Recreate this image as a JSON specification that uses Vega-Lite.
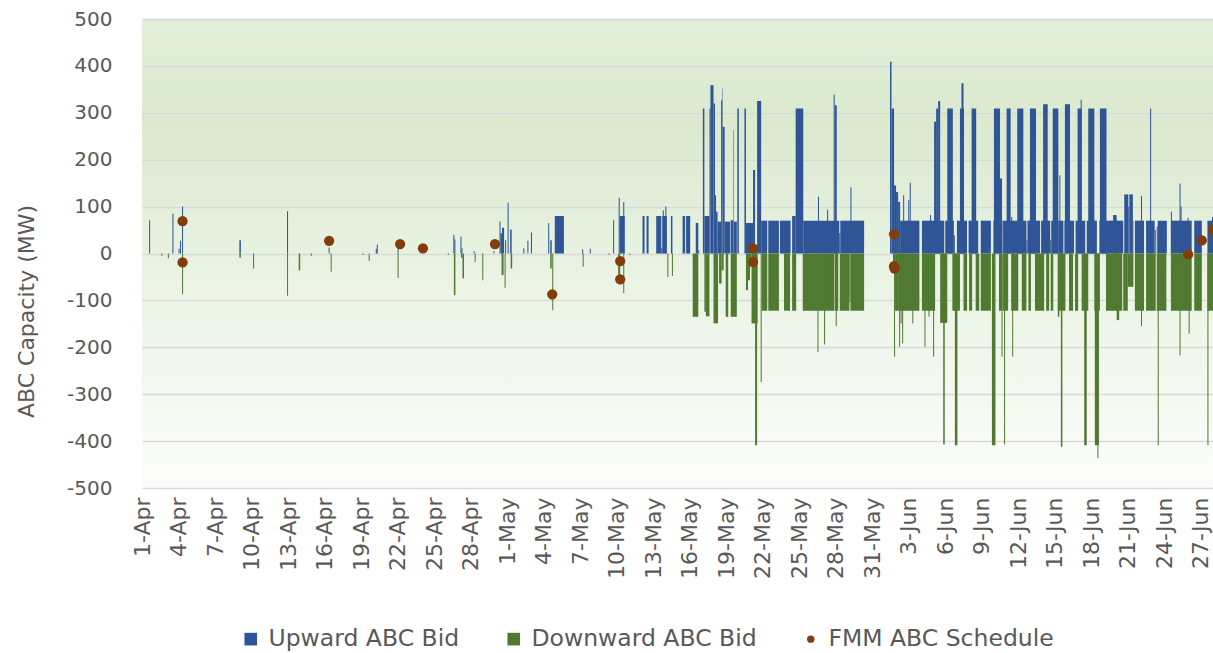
{
  "$schema": "https://vega.github.io/schema/vega-lite/v6.json",
  "width": 1071,
  "height": 469,
  "autosize": {"type": "none"},
  "padding": {"left": 142, "top": 19, "right": 0, "bottom": 165},
  "background": "white",
  "view": {
    "stroke": null,
    "fill": {"gradient": "linear", "x1": 0, "y1": 0, "x2": 0, "y2": 1,
      "stops": [
        {"offset": 0, "color": "#e3efda"},
        {"offset": 0.22, "color": "#dbe9cf"},
        {"offset": 0.55, "color": "#eaf3e4"},
        {"offset": 1, "color": "#fcfdfb"}
      ]}
  },
  "config": {"font": "DejaVu Sans"},
  "datasets": {
    "bars": [
      {"s":"2023-04-01T14:00","e":"2023-04-01T16:00","v":71,"series":"Upward ABC Bid"},
      {"s":"2023-04-03T12:00","e":"2023-04-03T14:00","v":85,"series":"Upward ABC Bid"},
      {"s":"2023-04-04T00:00","e":"2023-04-04T02:00","v":10,"series":"Upward ABC Bid"},
      {"s":"2023-04-04T03:00","e":"2023-04-04T05:00","v":27,"series":"Upward ABC Bid"},
      {"s":"2023-04-04T07:00","e":"2023-04-04T09:00","v":100,"series":"Upward ABC Bid"},
      {"s":"2023-04-09T00:00","e":"2023-04-09T03:00","v":28,"series":"Upward ABC Bid"},
      {"s":"2023-04-12T22:00","e":"2023-04-13T00:00","v":90,"series":"Upward ABC Bid"},
      {"s":"2023-04-16T08:00","e":"2023-04-16T10:00","v":13,"series":"Upward ABC Bid"},
      {"s":"2023-04-20T05:00","e":"2023-04-20T07:00","v":10,"series":"Upward ABC Bid"},
      {"s":"2023-04-20T07:00","e":"2023-04-20T09:00","v":19,"series":"Upward ABC Bid"},
      {"s":"2023-04-22T00:00","e":"2023-04-22T02:00","v":11,"series":"Upward ABC Bid"},
      {"s":"2023-04-26T14:00","e":"2023-04-26T16:00","v":40,"series":"Upward ABC Bid"},
      {"s":"2023-04-26T16:00","e":"2023-04-26T18:00","v":30,"series":"Upward ABC Bid"},
      {"s":"2023-04-27T04:00","e":"2023-04-27T06:00","v":36,"series":"Upward ABC Bid"},
      {"s":"2023-04-27T06:00","e":"2023-04-27T08:00","v":11,"series":"Upward ABC Bid"},
      {"s":"2023-04-28T06:00","e":"2023-04-28T08:00","v":5,"series":"Upward ABC Bid"},
      {"s":"2023-04-29T21:00","e":"2023-04-29T23:00","v":5,"series":"Upward ABC Bid"},
      {"s":"2023-04-30T09:00","e":"2023-04-30T11:00","v":68,"series":"Upward ABC Bid"},
      {"s":"2023-04-30T11:00","e":"2023-04-30T14:00","v":43,"series":"Upward ABC Bid"},
      {"s":"2023-04-30T14:00","e":"2023-04-30T18:00","v":55,"series":"Upward ABC Bid"},
      {"s":"2023-04-30T20:00","e":"2023-04-30T22:00","v":28,"series":"Upward ABC Bid"},
      {"s":"2023-05-01T01:00","e":"2023-05-01T03:00","v":108,"series":"Upward ABC Bid"},
      {"s":"2023-05-01T06:00","e":"2023-05-01T09:00","v":51,"series":"Upward ABC Bid"},
      {"s":"2023-05-02T08:00","e":"2023-05-02T10:00","v":11,"series":"Upward ABC Bid"},
      {"s":"2023-05-02T16:00","e":"2023-05-02T18:00","v":27,"series":"Upward ABC Bid"},
      {"s":"2023-05-02T23:00","e":"2023-05-03T01:00","v":45,"series":"Upward ABC Bid"},
      {"s":"2023-05-04T09:00","e":"2023-05-04T11:00","v":65,"series":"Upward ABC Bid"},
      {"s":"2023-05-04T13:00","e":"2023-05-04T16:00","v":28,"series":"Upward ABC Bid"},
      {"s":"2023-05-04T22:00","e":"2023-05-05T16:00","v":80,"series":"Upward ABC Bid"},
      {"s":"2023-05-07T04:00","e":"2023-05-07T06:00","v":9,"series":"Upward ABC Bid"},
      {"s":"2023-05-07T19:00","e":"2023-05-07T21:00","v":10,"series":"Upward ABC Bid"},
      {"s":"2023-05-09T17:00","e":"2023-05-09T19:00","v":71,"series":"Upward ABC Bid"},
      {"s":"2023-05-10T04:00","e":"2023-05-10T06:00","v":119,"series":"Upward ABC Bid"},
      {"s":"2023-05-10T06:00","e":"2023-05-10T16:00","v":80,"series":"Upward ABC Bid"},
      {"s":"2023-05-10T13:00","e":"2023-05-10T15:00","v":110,"series":"Upward ABC Bid"},
      {"s":"2023-05-12T03:00","e":"2023-05-12T07:00","v":80,"series":"Upward ABC Bid"},
      {"s":"2023-05-12T11:00","e":"2023-05-12T15:00","v":80,"series":"Upward ABC Bid"},
      {"s":"2023-05-13T06:00","e":"2023-05-13T16:00","v":80,"series":"Upward ABC Bid"},
      {"s":"2023-05-13T16:00","e":"2023-05-13T18:00","v":11,"series":"Upward ABC Bid"},
      {"s":"2023-05-13T18:00","e":"2023-05-14T03:00","v":80,"series":"Upward ABC Bid"},
      {"s":"2023-05-13T19:00","e":"2023-05-13T21:00","v":92,"series":"Upward ABC Bid"},
      {"s":"2023-05-14T00:00","e":"2023-05-14T02:00","v":100,"series":"Upward ABC Bid"},
      {"s":"2023-05-14T11:00","e":"2023-05-14T14:00","v":80,"series":"Upward ABC Bid"},
      {"s":"2023-05-15T10:00","e":"2023-05-15T15:00","v":80,"series":"Upward ABC Bid"},
      {"s":"2023-05-15T17:00","e":"2023-05-16T01:00","v":80,"series":"Upward ABC Bid"},
      {"s":"2023-05-16T12:00","e":"2023-05-16T17:00","v":65,"series":"Upward ABC Bid"},
      {"s":"2023-05-16T17:00","e":"2023-05-16T19:00","v":7,"series":"Upward ABC Bid"},
      {"s":"2023-05-17T02:00","e":"2023-05-17T05:00","v":309,"series":"Upward ABC Bid"},
      {"s":"2023-05-17T05:00","e":"2023-05-17T15:00","v":80,"series":"Upward ABC Bid"},
      {"s":"2023-05-17T15:00","e":"2023-05-17T17:00","v":309,"series":"Upward ABC Bid"},
      {"s":"2023-05-17T17:00","e":"2023-05-17T23:00","v":359,"series":"Upward ABC Bid"},
      {"s":"2023-05-17T23:00","e":"2023-05-18T02:00","v":320,"series":"Upward ABC Bid"},
      {"s":"2023-05-18T02:00","e":"2023-05-18T04:00","v":124,"series":"Upward ABC Bid"},
      {"s":"2023-05-18T04:00","e":"2023-05-18T07:00","v":89,"series":"Upward ABC Bid"},
      {"s":"2023-05-18T07:00","e":"2023-05-18T14:00","v":68,"series":"Upward ABC Bid"},
      {"s":"2023-05-18T14:00","e":"2023-05-18T16:00","v":327,"series":"Upward ABC Bid"},
      {"s":"2023-05-18T16:00","e":"2023-05-18T17:00","v":352,"series":"Upward ABC Bid"},
      {"s":"2023-05-18T17:00","e":"2023-05-18T21:00","v":270,"series":"Upward ABC Bid"},
      {"s":"2023-05-18T21:00","e":"2023-05-19T08:00","v":68,"series":"Upward ABC Bid"},
      {"s":"2023-05-19T09:00","e":"2023-05-19T14:00","v":71,"series":"Upward ABC Bid"},
      {"s":"2023-05-19T14:00","e":"2023-05-19T15:00","v":264,"series":"Upward ABC Bid"},
      {"s":"2023-05-19T15:00","e":"2023-05-19T21:00","v":68,"series":"Upward ABC Bid"},
      {"s":"2023-05-19T22:00","e":"2023-05-20T01:00","v":309,"series":"Upward ABC Bid"},
      {"s":"2023-05-20T12:00","e":"2023-05-20T15:00","v":309,"series":"Upward ABC Bid"},
      {"s":"2023-05-20T15:00","e":"2023-05-21T05:00","v":65,"series":"Upward ABC Bid"},
      {"s":"2023-05-21T05:00","e":"2023-05-21T09:00","v":178,"series":"Upward ABC Bid"},
      {"s":"2023-05-21T09:00","e":"2023-05-21T13:00","v":7,"series":"Upward ABC Bid"},
      {"s":"2023-05-21T13:00","e":"2023-05-21T21:00","v":325,"series":"Upward ABC Bid"},
      {"s":"2023-05-21T21:00","e":"2023-05-22T09:00","v":70,"series":"Upward ABC Bid"},
      {"s":"2023-05-22T11:00","e":"2023-05-23T08:00","v":70,"series":"Upward ABC Bid"},
      {"s":"2023-05-23T10:00","e":"2023-05-24T07:00","v":70,"series":"Upward ABC Bid"},
      {"s":"2023-05-24T10:00","e":"2023-05-24T17:00","v":80,"series":"Upward ABC Bid"},
      {"s":"2023-05-24T17:00","e":"2023-05-25T08:00","v":309,"series":"Upward ABC Bid"},
      {"s":"2023-05-25T08:00","e":"2023-05-28T07:00","v":70,"series":"Upward ABC Bid"},
      {"s":"2023-05-28T07:00","e":"2023-05-28T09:00","v":43,"series":"Upward ABC Bid"},
      {"s":"2023-05-28T09:00","e":"2023-05-30T08:00","v":70,"series":"Upward ABC Bid"},
      {"s":"2023-05-26T13:00","e":"2023-05-26T15:00","v":121,"series":"Upward ABC Bid"},
      {"s":"2023-05-27T07:00","e":"2023-05-27T09:00","v":94,"series":"Upward ABC Bid"},
      {"s":"2023-05-27T20:00","e":"2023-05-27T22:00","v":339,"series":"Upward ABC Bid"},
      {"s":"2023-05-27T22:00","e":"2023-05-28T02:00","v":316,"series":"Upward ABC Bid"},
      {"s":"2023-05-29T05:00","e":"2023-05-29T07:00","v":141,"series":"Upward ABC Bid"},
      {"s":"2023-06-01T11:00","e":"2023-06-01T14:00","v":409,"series":"Upward ABC Bid"},
      {"s":"2023-06-01T14:00","e":"2023-06-01T19:00","v":309,"series":"Upward ABC Bid"},
      {"s":"2023-06-01T19:00","e":"2023-06-01T23:00","v":145,"series":"Upward ABC Bid"},
      {"s":"2023-06-01T23:00","e":"2023-06-02T03:00","v":131,"series":"Upward ABC Bid"},
      {"s":"2023-06-02T03:00","e":"2023-06-02T07:00","v":110,"series":"Upward ABC Bid"},
      {"s":"2023-06-02T07:00","e":"2023-06-03T21:00","v":70,"series":"Upward ABC Bid"},
      {"s":"2023-06-02T13:00","e":"2023-06-02T15:00","v":124,"series":"Upward ABC Bid"},
      {"s":"2023-06-02T23:00","e":"2023-06-03T01:00","v":114,"series":"Upward ABC Bid"},
      {"s":"2023-06-03T02:00","e":"2023-06-03T04:00","v":151,"series":"Upward ABC Bid"},
      {"s":"2023-06-04T02:00","e":"2023-06-05T22:00","v":70,"series":"Upward ABC Bid"},
      {"s":"2023-06-04T18:00","e":"2023-06-04T20:00","v":82,"series":"Upward ABC Bid"},
      {"s":"2023-06-05T02:00","e":"2023-06-05T06:00","v":281,"series":"Upward ABC Bid"},
      {"s":"2023-06-05T06:00","e":"2023-06-05T10:00","v":309,"series":"Upward ABC Bid"},
      {"s":"2023-06-05T10:00","e":"2023-06-05T14:00","v":325,"series":"Upward ABC Bid"},
      {"s":"2023-06-06T00:00","e":"2023-06-06T17:00","v":70,"series":"Upward ABC Bid"},
      {"s":"2023-06-06T04:00","e":"2023-06-06T15:00","v":309,"series":"Upward ABC Bid"},
      {"s":"2023-06-06T17:00","e":"2023-06-06T19:00","v":39,"series":"Upward ABC Bid"},
      {"s":"2023-06-06T23:00","e":"2023-06-07T19:00","v":70,"series":"Upward ABC Bid"},
      {"s":"2023-06-07T05:00","e":"2023-06-07T13:00","v":309,"series":"Upward ABC Bid"},
      {"s":"2023-06-07T08:00","e":"2023-06-07T12:00","v":363,"series":"Upward ABC Bid"},
      {"s":"2023-06-07T22:00","e":"2023-06-08T17:00","v":70,"series":"Upward ABC Bid"},
      {"s":"2023-06-08T04:00","e":"2023-06-08T13:00","v":309,"series":"Upward ABC Bid"},
      {"s":"2023-06-08T22:00","e":"2023-06-09T18:00","v":70,"series":"Upward ABC Bid"},
      {"s":"2023-06-09T23:00","e":"2023-06-10T17:00","v":70,"series":"Upward ABC Bid"},
      {"s":"2023-06-10T00:00","e":"2023-06-10T12:00","v":309,"series":"Upward ABC Bid"},
      {"s":"2023-06-10T12:00","e":"2023-06-10T16:00","v":160,"series":"Upward ABC Bid"},
      {"s":"2023-06-10T18:00","e":"2023-06-12T16:00","v":70,"series":"Upward ABC Bid"},
      {"s":"2023-06-12T16:00","e":"2023-06-12T18:00","v":28,"series":"Upward ABC Bid"},
      {"s":"2023-06-12T18:00","e":"2023-06-13T19:00","v":70,"series":"Upward ABC Bid"},
      {"s":"2023-06-11T01:00","e":"2023-06-11T09:00","v":309,"series":"Upward ABC Bid"},
      {"s":"2023-06-11T10:00","e":"2023-06-11T12:00","v":78,"series":"Upward ABC Bid"},
      {"s":"2023-06-11T22:00","e":"2023-06-12T10:00","v":309,"series":"Upward ABC Bid"},
      {"s":"2023-06-12T23:00","e":"2023-06-13T11:00","v":309,"series":"Upward ABC Bid"},
      {"s":"2023-06-13T21:00","e":"2023-06-14T15:00","v":70,"series":"Upward ABC Bid"},
      {"s":"2023-06-14T01:00","e":"2023-06-14T10:00","v":318,"series":"Upward ABC Bid"},
      {"s":"2023-06-14T15:00","e":"2023-06-14T17:00","v":28,"series":"Upward ABC Bid"},
      {"s":"2023-06-14T17:00","e":"2023-06-15T07:00","v":70,"series":"Upward ABC Bid"},
      {"s":"2023-06-14T20:00","e":"2023-06-15T07:00","v":309,"series":"Upward ABC Bid"},
      {"s":"2023-06-15T07:00","e":"2023-06-15T17:00","v":70,"series":"Upward ABC Bid"},
      {"s":"2023-06-15T09:00","e":"2023-06-15T11:00","v":167,"series":"Upward ABC Bid"},
      {"s":"2023-06-15T19:00","e":"2023-06-16T14:00","v":70,"series":"Upward ABC Bid"},
      {"s":"2023-06-15T20:00","e":"2023-06-16T06:00","v":318,"series":"Upward ABC Bid"},
      {"s":"2023-06-16T17:00","e":"2023-06-17T12:00","v":70,"series":"Upward ABC Bid"},
      {"s":"2023-06-16T21:00","e":"2023-06-17T05:00","v":309,"series":"Upward ABC Bid"},
      {"s":"2023-06-17T03:00","e":"2023-06-17T05:00","v":328,"series":"Upward ABC Bid"},
      {"s":"2023-06-17T15:00","e":"2023-06-18T11:00","v":70,"series":"Upward ABC Bid"},
      {"s":"2023-06-17T18:00","e":"2023-06-18T06:00","v":309,"series":"Upward ABC Bid"},
      {"s":"2023-06-18T16:00","e":"2023-06-20T15:00","v":70,"series":"Upward ABC Bid"},
      {"s":"2023-06-18T17:00","e":"2023-06-19T06:00","v":309,"series":"Upward ABC Bid"},
      {"s":"2023-06-19T19:00","e":"2023-06-20T02:00","v":82,"series":"Upward ABC Bid"},
      {"s":"2023-06-20T17:00","e":"2023-06-21T01:00","v":126,"series":"Upward ABC Bid"},
      {"s":"2023-06-21T01:00","e":"2023-06-21T03:00","v":100,"series":"Upward ABC Bid"},
      {"s":"2023-06-21T03:00","e":"2023-06-21T10:00","v":126,"series":"Upward ABC Bid"},
      {"s":"2023-06-21T10:00","e":"2023-06-21T11:00","v":70,"series":"Upward ABC Bid"},
      {"s":"2023-06-21T14:00","e":"2023-06-22T08:00","v":70,"series":"Upward ABC Bid"},
      {"s":"2023-06-22T02:00","e":"2023-06-22T04:00","v":123,"series":"Upward ABC Bid"},
      {"s":"2023-06-22T12:00","e":"2023-06-23T05:00","v":70,"series":"Upward ABC Bid"},
      {"s":"2023-06-22T20:00","e":"2023-06-22T22:00","v":309,"series":"Upward ABC Bid"},
      {"s":"2023-06-23T05:00","e":"2023-06-23T07:00","v":50,"series":"Upward ABC Bid"},
      {"s":"2023-06-23T09:00","e":"2023-06-23T11:00","v":57,"series":"Upward ABC Bid"},
      {"s":"2023-06-23T11:00","e":"2023-06-24T05:00","v":70,"series":"Upward ABC Bid"},
      {"s":"2023-06-24T13:00","e":"2023-06-26T06:00","v":70,"series":"Upward ABC Bid"},
      {"s":"2023-06-24T13:00","e":"2023-06-24T15:00","v":89,"series":"Upward ABC Bid"},
      {"s":"2023-06-25T06:00","e":"2023-06-25T08:00","v":149,"series":"Upward ABC Bid"},
      {"s":"2023-06-25T08:00","e":"2023-06-25T10:00","v":100,"series":"Upward ABC Bid"},
      {"s":"2023-06-25T22:00","e":"2023-06-26T00:00","v":76,"series":"Upward ABC Bid"},
      {"s":"2023-06-26T11:00","e":"2023-06-27T02:00","v":70,"series":"Upward ABC Bid"},
      {"s":"2023-06-27T13:00","e":"2023-06-28T00:00","v":70,"series":"Upward ABC Bid"},
      {"s":"2023-06-27T22:00","e":"2023-06-28T00:00","v":78,"series":"Upward ABC Bid"},

      {"s":"2023-04-02T14:00","e":"2023-04-02T16:00","v":-5,"series":"Downward ABC Bid"},
      {"s":"2023-04-03T03:00","e":"2023-04-03T05:00","v":-10,"series":"Downward ABC Bid"},
      {"s":"2023-04-04T07:00","e":"2023-04-04T09:00","v":-87,"series":"Downward ABC Bid"},
      {"s":"2023-04-09T00:00","e":"2023-04-09T03:00","v":-9,"series":"Downward ABC Bid"},
      {"s":"2023-04-10T03:00","e":"2023-04-10T05:00","v":-32,"series":"Downward ABC Bid"},
      {"s":"2023-04-12T22:00","e":"2023-04-13T00:00","v":-90,"series":"Downward ABC Bid"},
      {"s":"2023-04-13T21:00","e":"2023-04-14T00:00","v":-36,"series":"Downward ABC Bid"},
      {"s":"2023-04-14T21:00","e":"2023-04-14T23:00","v":-5,"series":"Downward ABC Bid"},
      {"s":"2023-04-16T12:00","e":"2023-04-16T14:00","v":-39,"series":"Downward ABC Bid"},
      {"s":"2023-04-19T03:00","e":"2023-04-19T05:00","v":-3,"series":"Downward ABC Bid"},
      {"s":"2023-04-19T15:00","e":"2023-04-19T17:00","v":-16,"series":"Downward ABC Bid"},
      {"s":"2023-04-22T00:00","e":"2023-04-22T02:00","v":-52,"series":"Downward ABC Bid"},
      {"s":"2023-04-26T03:00","e":"2023-04-26T05:00","v":-3,"series":"Downward ABC Bid"},
      {"s":"2023-04-26T15:00","e":"2023-04-26T18:00","v":-89,"series":"Downward ABC Bid"},
      {"s":"2023-04-27T05:00","e":"2023-04-27T08:00","v":-9,"series":"Downward ABC Bid"},
      {"s":"2023-04-27T08:00","e":"2023-04-27T11:00","v":-53,"series":"Downward ABC Bid"},
      {"s":"2023-04-28T08:00","e":"2023-04-28T10:00","v":-18,"series":"Downward ABC Bid"},
      {"s":"2023-04-28T23:00","e":"2023-04-29T01:00","v":-57,"series":"Downward ABC Bid"},
      {"s":"2023-04-30T13:00","e":"2023-04-30T17:00","v":-46,"series":"Downward ABC Bid"},
      {"s":"2023-04-30T19:00","e":"2023-04-30T21:00","v":-73,"series":"Downward ABC Bid"},
      {"s":"2023-05-01T07:00","e":"2023-05-01T10:00","v":-32,"series":"Downward ABC Bid"},
      {"s":"2023-05-04T13:00","e":"2023-05-04T16:00","v":-32,"series":"Downward ABC Bid"},
      {"s":"2023-05-04T17:00","e":"2023-05-04T19:00","v":-121,"series":"Downward ABC Bid"},
      {"s":"2023-05-07T05:00","e":"2023-05-07T07:00","v":-28,"series":"Downward ABC Bid"},
      {"s":"2023-05-09T08:00","e":"2023-05-09T10:00","v":-3,"series":"Downward ABC Bid"},
      {"s":"2023-05-10T03:00","e":"2023-05-10T07:00","v":-55,"series":"Downward ABC Bid"},
      {"s":"2023-05-10T13:00","e":"2023-05-10T15:00","v":-85,"series":"Downward ABC Bid"},
      {"s":"2023-05-11T01:00","e":"2023-05-11T03:00","v":-3,"series":"Downward ABC Bid"},
      {"s":"2023-05-14T04:00","e":"2023-05-14T06:00","v":-50,"series":"Downward ABC Bid"},
      {"s":"2023-05-14T13:00","e":"2023-05-14T15:00","v":-48,"series":"Downward ABC Bid"},
      {"s":"2023-05-16T06:00","e":"2023-05-16T17:00","v":-135,"series":"Downward ABC Bid"},
      {"s":"2023-05-17T05:00","e":"2023-05-17T08:00","v":-124,"series":"Downward ABC Bid"},
      {"s":"2023-05-17T08:00","e":"2023-05-17T15:00","v":-134,"series":"Downward ABC Bid"},
      {"s":"2023-05-17T23:00","e":"2023-05-18T08:00","v":-149,"series":"Downward ABC Bid"},
      {"s":"2023-05-18T10:00","e":"2023-05-18T15:00","v":-64,"series":"Downward ABC Bid"},
      {"s":"2023-05-18T15:00","e":"2023-05-18T19:00","v":-36,"series":"Downward ABC Bid"},
      {"s":"2023-05-18T23:00","e":"2023-05-19T04:00","v":-135,"series":"Downward ABC Bid"},
      {"s":"2023-05-19T09:00","e":"2023-05-19T21:00","v":-135,"series":"Downward ABC Bid"},
      {"s":"2023-05-20T15:00","e":"2023-05-20T19:00","v":-78,"series":"Downward ABC Bid"},
      {"s":"2023-05-20T19:00","e":"2023-05-20T23:00","v":-57,"series":"Downward ABC Bid"},
      {"s":"2023-05-20T23:00","e":"2023-05-21T02:00","v":-28,"series":"Downward ABC Bid"},
      {"s":"2023-05-21T02:00","e":"2023-05-21T14:00","v":-149,"series":"Downward ABC Bid"},
      {"s":"2023-05-21T09:00","e":"2023-05-21T13:00","v":-409,"series":"Downward ABC Bid"},
      {"s":"2023-05-21T20:00","e":"2023-05-21T22:00","v":-274,"series":"Downward ABC Bid"},
      {"s":"2023-05-21T22:00","e":"2023-05-22T09:00","v":-122,"series":"Downward ABC Bid"},
      {"s":"2023-05-22T11:00","e":"2023-05-23T08:00","v":-122,"series":"Downward ABC Bid"},
      {"s":"2023-05-23T18:00","e":"2023-05-24T06:00","v":-122,"series":"Downward ABC Bid"},
      {"s":"2023-05-24T10:00","e":"2023-05-24T18:00","v":-122,"series":"Downward ABC Bid"},
      {"s":"2023-05-25T07:00","e":"2023-05-27T21:00","v":-122,"series":"Downward ABC Bid"},
      {"s":"2023-05-26T12:00","e":"2023-05-26T14:00","v":-210,"series":"Downward ABC Bid"},
      {"s":"2023-05-27T01:00","e":"2023-05-27T03:00","v":-194,"series":"Downward ABC Bid"},
      {"s":"2023-05-27T22:00","e":"2023-05-28T05:00","v":-122,"series":"Downward ABC Bid"},
      {"s":"2023-05-28T00:00","e":"2023-05-28T02:00","v":-155,"series":"Downward ABC Bid"},
      {"s":"2023-05-28T08:00","e":"2023-05-29T03:00","v":-122,"series":"Downward ABC Bid"},
      {"s":"2023-05-29T03:00","e":"2023-05-29T05:00","v":-103,"series":"Downward ABC Bid"},
      {"s":"2023-05-29T05:00","e":"2023-05-30T08:00","v":-122,"series":"Downward ABC Bid"},
      {"s":"2023-06-01T17:00","e":"2023-06-01T19:00","v":-30,"series":"Downward ABC Bid"},
      {"s":"2023-06-01T19:00","e":"2023-06-01T21:00","v":-220,"series":"Downward ABC Bid"},
      {"s":"2023-06-01T21:00","e":"2023-06-02T03:00","v":-122,"series":"Downward ABC Bid"},
      {"s":"2023-06-02T03:00","e":"2023-06-03T21:00","v":-122,"series":"Downward ABC Bid"},
      {"s":"2023-06-02T05:00","e":"2023-06-02T07:00","v":-199,"series":"Downward ABC Bid"},
      {"s":"2023-06-02T08:00","e":"2023-06-02T10:00","v":-149,"series":"Downward ABC Bid"},
      {"s":"2023-06-02T11:00","e":"2023-06-02T13:00","v":-192,"series":"Downward ABC Bid"},
      {"s":"2023-06-03T07:00","e":"2023-06-03T09:00","v":-149,"series":"Downward ABC Bid"},
      {"s":"2023-06-04T02:00","e":"2023-06-05T04:00","v":-122,"series":"Downward ABC Bid"},
      {"s":"2023-06-04T07:00","e":"2023-06-04T09:00","v":-199,"series":"Downward ABC Bid"},
      {"s":"2023-06-04T15:00","e":"2023-06-04T17:00","v":-135,"series":"Downward ABC Bid"},
      {"s":"2023-06-05T00:00","e":"2023-06-05T02:00","v":-220,"series":"Downward ABC Bid"},
      {"s":"2023-06-05T14:00","e":"2023-06-06T04:00","v":-148,"series":"Downward ABC Bid"},
      {"s":"2023-06-05T20:00","e":"2023-06-05T23:00","v":-407,"series":"Downward ABC Bid"},
      {"s":"2023-06-06T14:00","e":"2023-06-07T05:00","v":-122,"series":"Downward ABC Bid"},
      {"s":"2023-06-06T19:00","e":"2023-06-07T00:00","v":-409,"series":"Downward ABC Bid"},
      {"s":"2023-06-07T12:00","e":"2023-06-07T19:00","v":-122,"series":"Downward ABC Bid"},
      {"s":"2023-06-07T23:00","e":"2023-06-08T05:00","v":-122,"series":"Downward ABC Bid"},
      {"s":"2023-06-08T12:00","e":"2023-06-08T19:00","v":-122,"series":"Downward ABC Bid"},
      {"s":"2023-06-08T22:00","e":"2023-06-09T18:00","v":-122,"series":"Downward ABC Bid"},
      {"s":"2023-06-09T20:00","e":"2023-06-10T03:00","v":-409,"series":"Downward ABC Bid"},
      {"s":"2023-06-10T10:00","e":"2023-06-10T17:00","v":-122,"series":"Downward ABC Bid"},
      {"s":"2023-06-10T15:00","e":"2023-06-10T17:00","v":-220,"series":"Downward ABC Bid"},
      {"s":"2023-06-10T18:00","e":"2023-06-11T04:00","v":-122,"series":"Downward ABC Bid"},
      {"s":"2023-06-10T20:00","e":"2023-06-10T22:00","v":-407,"series":"Downward ABC Bid"},
      {"s":"2023-06-11T10:00","e":"2023-06-12T00:00","v":-122,"series":"Downward ABC Bid"},
      {"s":"2023-06-11T12:00","e":"2023-06-11T14:00","v":-220,"series":"Downward ABC Bid"},
      {"s":"2023-06-12T07:00","e":"2023-06-12T16:00","v":-122,"series":"Downward ABC Bid"},
      {"s":"2023-06-12T20:00","e":"2023-06-13T01:00","v":-122,"series":"Downward ABC Bid"},
      {"s":"2023-06-13T09:00","e":"2023-06-14T03:00","v":-122,"series":"Downward ABC Bid"},
      {"s":"2023-06-14T07:00","e":"2023-06-14T13:00","v":-122,"series":"Downward ABC Bid"},
      {"s":"2023-06-14T16:00","e":"2023-06-14T21:00","v":-122,"series":"Downward ABC Bid"},
      {"s":"2023-06-15T06:00","e":"2023-06-15T21:00","v":-122,"series":"Downward ABC Bid"},
      {"s":"2023-06-15T06:00","e":"2023-06-15T09:00","v":-135,"series":"Downward ABC Bid"},
      {"s":"2023-06-15T12:00","e":"2023-06-15T15:00","v":-412,"series":"Downward ABC Bid"},
      {"s":"2023-06-16T04:00","e":"2023-06-16T12:00","v":-122,"series":"Downward ABC Bid"},
      {"s":"2023-06-16T16:00","e":"2023-06-16T22:00","v":-122,"series":"Downward ABC Bid"},
      {"s":"2023-06-17T05:00","e":"2023-06-17T18:00","v":-122,"series":"Downward ABC Bid"},
      {"s":"2023-06-17T10:00","e":"2023-06-17T15:00","v":-409,"series":"Downward ABC Bid"},
      {"s":"2023-06-18T06:00","e":"2023-06-18T17:00","v":-122,"series":"Downward ABC Bid"},
      {"s":"2023-06-18T07:00","e":"2023-06-18T15:00","v":-409,"series":"Downward ABC Bid"},
      {"s":"2023-06-18T12:00","e":"2023-06-18T14:00","v":-436,"series":"Downward ABC Bid"},
      {"s":"2023-06-19T05:00","e":"2023-06-20T13:00","v":-122,"series":"Downward ABC Bid"},
      {"s":"2023-06-20T02:00","e":"2023-06-20T07:00","v":-142,"series":"Downward ABC Bid"},
      {"s":"2023-06-20T15:00","e":"2023-06-21T00:00","v":-122,"series":"Downward ABC Bid"},
      {"s":"2023-06-21T00:00","e":"2023-06-21T11:00","v":-71,"series":"Downward ABC Bid"},
      {"s":"2023-06-21T14:00","e":"2023-06-22T08:00","v":-122,"series":"Downward ABC Bid"},
      {"s":"2023-06-22T02:00","e":"2023-06-22T04:00","v":-155,"series":"Downward ABC Bid"},
      {"s":"2023-06-22T12:00","e":"2023-06-23T07:00","v":-122,"series":"Downward ABC Bid"},
      {"s":"2023-06-23T09:00","e":"2023-06-24T04:00","v":-122,"series":"Downward ABC Bid"},
      {"s":"2023-06-23T11:00","e":"2023-06-23T13:00","v":-409,"series":"Downward ABC Bid"},
      {"s":"2023-06-24T13:00","e":"2023-06-26T06:00","v":-122,"series":"Downward ABC Bid"},
      {"s":"2023-06-25T06:00","e":"2023-06-25T08:00","v":-217,"series":"Downward ABC Bid"},
      {"s":"2023-06-26T00:00","e":"2023-06-26T02:00","v":-171,"series":"Downward ABC Bid"},
      {"s":"2023-06-26T11:00","e":"2023-06-27T02:00","v":-122,"series":"Downward ABC Bid"},
      {"s":"2023-06-27T13:00","e":"2023-06-28T00:00","v":-122,"series":"Downward ABC Bid"},
      {"s":"2023-06-27T13:00","e":"2023-06-27T15:00","v":-409,"series":"Downward ABC Bid"}
    ],
    "sched": [
      {"s":"2023-04-04T08:00","v":69,"series":"FMM ABC Schedule"},
      {"s":"2023-04-04T08:00","v":-19,"series":"FMM ABC Schedule"},
      {"s":"2023-04-16T09:00","v":27,"series":"FMM ABC Schedule"},
      {"s":"2023-04-22T05:00","v":20,"series":"FMM ABC Schedule"},
      {"s":"2023-04-24T02:00","v":11,"series":"FMM ABC Schedule"},
      {"s":"2023-04-30T00:00","v":20,"series":"FMM ABC Schedule"},
      {"s":"2023-05-04T17:00","v":-87,"series":"FMM ABC Schedule"},
      {"s":"2023-05-10T07:00","v":-16,"series":"FMM ABC Schedule"},
      {"s":"2023-05-10T07:00","v":-55,"series":"FMM ABC Schedule"},
      {"s":"2023-05-21T05:00","v":11,"series":"FMM ABC Schedule"},
      {"s":"2023-05-21T05:00","v":-18,"series":"FMM ABC Schedule"},
      {"s":"2023-06-01T19:00","v":41,"series":"FMM ABC Schedule"},
      {"s":"2023-06-01T19:00","v":-27,"series":"FMM ABC Schedule"},
      {"s":"2023-06-01T20:00","v":-32,"series":"FMM ABC Schedule"},
      {"s":"2023-06-25T23:00","v":-2,"series":"FMM ABC Schedule"},
      {"s":"2023-06-27T02:00","v":28,"series":"FMM ABC Schedule"},
      {"s":"2023-06-28T00:00","v":51,"series":"FMM ABC Schedule"}
    ]
  },
  "encoding": {
    "x": {
      "field": "s", "type": "temporal",
      "scale": {"domain": [{"year":2023,"month":4,"date":1},{"year":2023,"month":6,"date":28}], "nice": false},
      "axis": {
        "title": null, "grid": false, "domain": false, "ticks": false, "tickSize": 0,
        "format": "%-d-%b", "labelAngle": -90, "labelFontSize": 22, "labelColor": "#595959",
        "labelPadding": 9, "labelOverlap": false, "labelSeparation": 0, "labelFlush": false,
        "values": [
          {"year":2023,"month":4,"date":1},{"year":2023,"month":4,"date":4},{"year":2023,"month":4,"date":7},
          {"year":2023,"month":4,"date":10},{"year":2023,"month":4,"date":13},{"year":2023,"month":4,"date":16},
          {"year":2023,"month":4,"date":19},{"year":2023,"month":4,"date":22},{"year":2023,"month":4,"date":25},
          {"year":2023,"month":4,"date":28},{"year":2023,"month":5,"date":1},{"year":2023,"month":5,"date":4},
          {"year":2023,"month":5,"date":7},{"year":2023,"month":5,"date":10},{"year":2023,"month":5,"date":13},
          {"year":2023,"month":5,"date":16},{"year":2023,"month":5,"date":19},{"year":2023,"month":5,"date":22},
          {"year":2023,"month":5,"date":25},{"year":2023,"month":5,"date":28},{"year":2023,"month":5,"date":31},
          {"year":2023,"month":6,"date":3},{"year":2023,"month":6,"date":6},{"year":2023,"month":6,"date":9},
          {"year":2023,"month":6,"date":12},{"year":2023,"month":6,"date":15},{"year":2023,"month":6,"date":18},
          {"year":2023,"month":6,"date":21},{"year":2023,"month":6,"date":24},{"year":2023,"month":6,"date":27}
        ]
      }
    },
    "y": {
      "field": "v", "type": "quantitative",
      "scale": {"domain": [-500, 500], "nice": false},
      "axis": {
        "title": "ABC Capacity (MW)", "titleFontSize": 22, "titleFontWeight": "normal", "titleColor": "#595959",
        "titleAngle": -90, "titleX": -109, "titleY": 292, "titleBaseline": "alphabetic", "titleAlign": "center",
        "values": [-500,-400,-300,-200,-100,0,100,200,300,400,500],
        "labelExpr": "datum.value + ''",
        "labelFontSize": 20, "labelColor": "#595959", "labelPadding": 30,
        "ticks": false, "tickSize": 0, "domain": false,
        "grid": true, "gridColor": "#d9d9d9", "gridWidth": 1.5
      }
    },
    "color": {
      "field": "series", "type": "nominal",
      "scale": {"domain": ["Upward ABC Bid", "Downward ABC Bid", "FMM ABC Schedule"], "range": ["#2f5597", "#507a31", "#843c0c"]},
      "legend": {
        "title": null, "orient": "none", "legendX": 97, "legendY": 608, "direction": "horizontal",
        "labelFontSize": 23.5, "labelColor": "#595959", "labelOffset": 6, "columnPadding": 42, "labelLimit": 400,
        "symbolType": "square", "symbolSize": 160, "symbolStrokeWidth": 0, "padding": 0,
        "encode": {
          "symbols": {"update": {
            "shape": {"signal": "datum.value === 'FMM ABC Schedule' ? 'circle' : 'square'"},
            "size": {"signal": "datum.value === 'FMM ABC Schedule' ? 55 : 160"},
            "opacity": {"value": 1}
          }}
        }
      }
    }
  },
  "layer": [
    {
      "data": {"name": "bars"},
      "mark": {"type": "rect"},
      "encoding": {
        "x2": {"field": "e"},
        "y2": {"datum": 0}
      }
    },
    {
      "data": {"name": "sched"},
      "mark": {"type": "point", "filled": true, "size": 105, "opacity": 1}
    }
  ]
}
